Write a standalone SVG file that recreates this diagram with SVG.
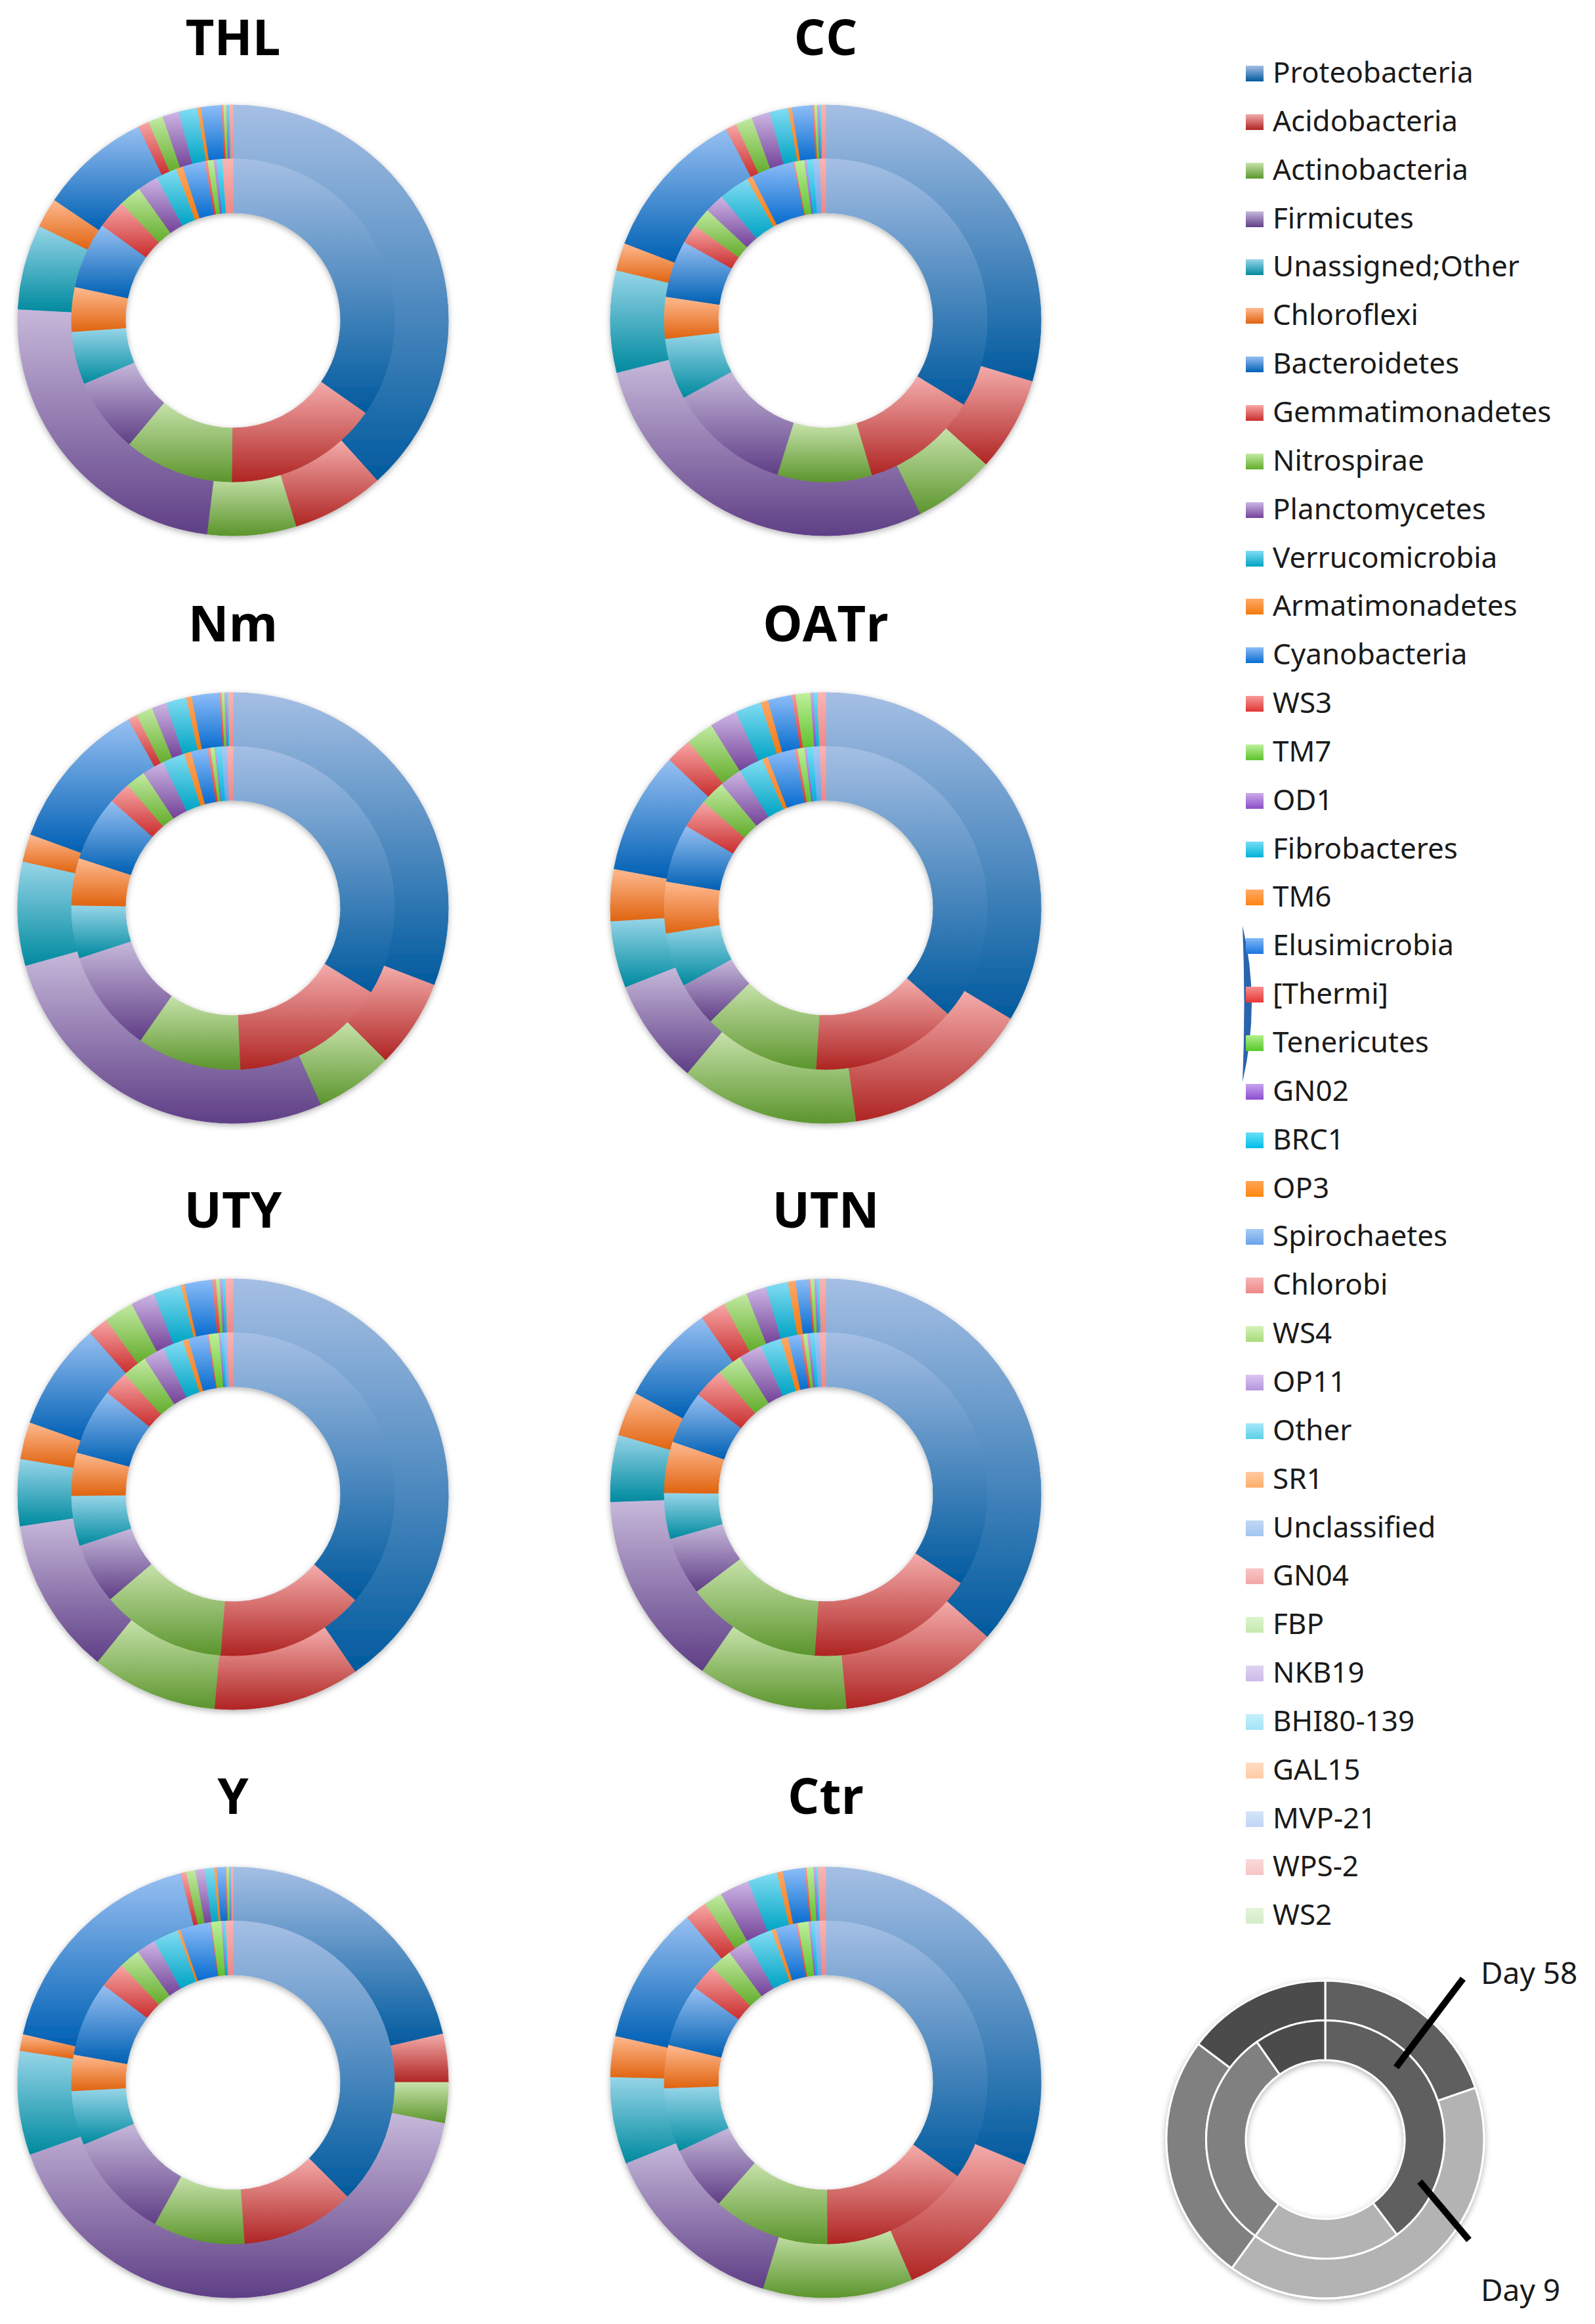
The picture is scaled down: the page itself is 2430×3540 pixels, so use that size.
<svg xmlns="http://www.w3.org/2000/svg" width="2430" height="3540" viewBox="0 0 2430 3540">
<defs>
<linearGradient id="g1" x1="0" y1="0" x2="0" y2="1"><stop offset="0" stop-color="#A5BFE4"/><stop offset="1" stop-color="#005A9E"/></linearGradient>
<linearGradient id="g2" x1="0" y1="0" x2="0" y2="1"><stop offset="0" stop-color="#F3ABAA"/><stop offset="1" stop-color="#AF2523"/></linearGradient>
<linearGradient id="g3" x1="0" y1="0" x2="0" y2="1"><stop offset="0" stop-color="#C6E2AA"/><stop offset="1" stop-color="#5C952D"/></linearGradient>
<linearGradient id="g4" x1="0" y1="0" x2="0" y2="1"><stop offset="0" stop-color="#C6B8DA"/><stop offset="1" stop-color="#5F3F86"/></linearGradient>
<linearGradient id="g5" x1="0" y1="0" x2="0" y2="1"><stop offset="0" stop-color="#97D5E8"/><stop offset="1" stop-color="#008A9F"/></linearGradient>
<linearGradient id="g6" x1="0" y1="0" x2="0" y2="1"><stop offset="0" stop-color="#FFBA91"/><stop offset="1" stop-color="#E06410"/></linearGradient>
<linearGradient id="g7" x1="0" y1="0" x2="0" y2="1"><stop offset="0" stop-color="#97C0F2"/><stop offset="1" stop-color="#0060B4"/></linearGradient>
<linearGradient id="g8" x1="0" y1="0" x2="0" y2="1"><stop offset="0" stop-color="#F8A6A6"/><stop offset="1" stop-color="#C92E2E"/></linearGradient>
<linearGradient id="g9" x1="0" y1="0" x2="0" y2="1"><stop offset="0" stop-color="#C2EAA2"/><stop offset="1" stop-color="#63AC2C"/></linearGradient>
<linearGradient id="g10" x1="0" y1="0" x2="0" y2="1"><stop offset="0" stop-color="#CDB6E4"/><stop offset="1" stop-color="#734399"/></linearGradient>
<linearGradient id="g11" x1="0" y1="0" x2="0" y2="1"><stop offset="0" stop-color="#82DCF3"/><stop offset="1" stop-color="#00A4C4"/></linearGradient>
<linearGradient id="g12" x1="0" y1="0" x2="0" y2="1"><stop offset="0" stop-color="#FFA868"/><stop offset="1" stop-color="#F27A0E"/></linearGradient>
<linearGradient id="g13" x1="0" y1="0" x2="0" y2="1"><stop offset="0" stop-color="#8CBDF8"/><stop offset="1" stop-color="#086CCF"/></linearGradient>
<linearGradient id="g14" x1="0" y1="0" x2="0" y2="1"><stop offset="0" stop-color="#F79A9A"/><stop offset="1" stop-color="#E03434"/></linearGradient>
<linearGradient id="g15" x1="0" y1="0" x2="0" y2="1"><stop offset="0" stop-color="#BDF09A"/><stop offset="1" stop-color="#5FC22E"/></linearGradient>
<linearGradient id="g16" x1="0" y1="0" x2="0" y2="1"><stop offset="0" stop-color="#CBAAEA"/><stop offset="1" stop-color="#8A4FC6"/></linearGradient>
<linearGradient id="g17" x1="0" y1="0" x2="0" y2="1"><stop offset="0" stop-color="#76DEF6"/><stop offset="1" stop-color="#00B2D8"/></linearGradient>
<linearGradient id="g18" x1="0" y1="0" x2="0" y2="1"><stop offset="0" stop-color="#FFAA66"/><stop offset="1" stop-color="#FF8314"/></linearGradient>
<linearGradient id="g19" x1="0" y1="0" x2="0" y2="1"><stop offset="0" stop-color="#82B9F8"/><stop offset="1" stop-color="#1A74DD"/></linearGradient>
<linearGradient id="g20" x1="0" y1="0" x2="0" y2="1"><stop offset="0" stop-color="#F78E8E"/><stop offset="1" stop-color="#E63737"/></linearGradient>
<linearGradient id="g21" x1="0" y1="0" x2="0" y2="1"><stop offset="0" stop-color="#AEF088"/><stop offset="1" stop-color="#58C82A"/></linearGradient>
<linearGradient id="g22" x1="0" y1="0" x2="0" y2="1"><stop offset="0" stop-color="#C7A4EE"/><stop offset="1" stop-color="#8B4DD2"/></linearGradient>
<linearGradient id="g23" x1="0" y1="0" x2="0" y2="1"><stop offset="0" stop-color="#6ADFF8"/><stop offset="1" stop-color="#00BDE8"/></linearGradient>
<linearGradient id="g24" x1="0" y1="0" x2="0" y2="1"><stop offset="0" stop-color="#FFA456"/><stop offset="1" stop-color="#FF870E"/></linearGradient>
<linearGradient id="g25" x1="0" y1="0" x2="0" y2="1"><stop offset="0" stop-color="#A8CBF6"/><stop offset="1" stop-color="#6AA3E8"/></linearGradient>
<linearGradient id="g26" x1="0" y1="0" x2="0" y2="1"><stop offset="0" stop-color="#F8B5B5"/><stop offset="1" stop-color="#EC8888"/></linearGradient>
<linearGradient id="g27" x1="0" y1="0" x2="0" y2="1"><stop offset="0" stop-color="#D3F2B8"/><stop offset="1" stop-color="#A7DC7A"/></linearGradient>
<linearGradient id="g28" x1="0" y1="0" x2="0" y2="1"><stop offset="0" stop-color="#D9C8F0"/><stop offset="1" stop-color="#B694DC"/></linearGradient>
<linearGradient id="g29" x1="0" y1="0" x2="0" y2="1"><stop offset="0" stop-color="#A6E8F8"/><stop offset="1" stop-color="#5CD0EA"/></linearGradient>
<linearGradient id="g30" x1="0" y1="0" x2="0" y2="1"><stop offset="0" stop-color="#FFCAA2"/><stop offset="1" stop-color="#FFAD6A"/></linearGradient>
<linearGradient id="g31" x1="0" y1="0" x2="0" y2="1"><stop offset="0" stop-color="#C2D8F6"/><stop offset="1" stop-color="#A2C4F0"/></linearGradient>
<linearGradient id="g32" x1="0" y1="0" x2="0" y2="1"><stop offset="0" stop-color="#FAC6C6"/><stop offset="1" stop-color="#F2A6A6"/></linearGradient>
<linearGradient id="g33" x1="0" y1="0" x2="0" y2="1"><stop offset="0" stop-color="#DCF4CE"/><stop offset="1" stop-color="#C4EAAE"/></linearGradient>
<linearGradient id="g34" x1="0" y1="0" x2="0" y2="1"><stop offset="0" stop-color="#E0D4F2"/><stop offset="1" stop-color="#CCBAE8"/></linearGradient>
<linearGradient id="g35" x1="0" y1="0" x2="0" y2="1"><stop offset="0" stop-color="#C4F0FB"/><stop offset="1" stop-color="#A2E4F6"/></linearGradient>
<linearGradient id="g36" x1="0" y1="0" x2="0" y2="1"><stop offset="0" stop-color="#FFDCC2"/><stop offset="1" stop-color="#FFCBA4"/></linearGradient>
<linearGradient id="g37" x1="0" y1="0" x2="0" y2="1"><stop offset="0" stop-color="#D6E4F8"/><stop offset="1" stop-color="#C0D6F4"/></linearGradient>
<linearGradient id="g38" x1="0" y1="0" x2="0" y2="1"><stop offset="0" stop-color="#FBDADA"/><stop offset="1" stop-color="#F7C4C4"/></linearGradient>
<linearGradient id="g39" x1="0" y1="0" x2="0" y2="1"><stop offset="0" stop-color="#E4F4DC"/><stop offset="1" stop-color="#D2ECC6"/></linearGradient>
<filter id="sh" x="-10%" y="-10%" width="120%" height="120%"><feDropShadow dx="0" dy="3" stdDeviation="5" flood-color="#000" flood-opacity="0.3"/></filter>
</defs>
<style>
.t{font-family:"Open Sans","Liberation Sans",sans-serif;font-weight:700;font-size:76px;fill:#000;text-anchor:middle}
.l{font-family:"Noto Sans","Liberation Sans",sans-serif;font-size:44px;fill:#1a1a1a}
.dn path{stroke-width:.012}
.k1{fill:url(#g1);stroke:url(#g1)}.k2{fill:url(#g2);stroke:url(#g2)}.k3{fill:url(#g3);stroke:url(#g3)}.k4{fill:url(#g4);stroke:url(#g4)}
.k5{fill:url(#g5);stroke:url(#g5)}.k6{fill:url(#g6);stroke:url(#g6)}.k7{fill:url(#g7);stroke:url(#g7)}.k8{fill:url(#g8);stroke:url(#g8)}
.k9{fill:url(#g9);stroke:url(#g9)}.k10{fill:url(#g10);stroke:url(#g10)}.k11{fill:url(#g11);stroke:url(#g11)}.k12{fill:url(#g12);stroke:url(#g12)}
.k13{fill:url(#g13);stroke:url(#g13)}.k14{fill:url(#g14);stroke:url(#g14)}.k15{fill:url(#g15);stroke:url(#g15)}.k16{fill:url(#g16);stroke:url(#g16)}
.k17{fill:url(#g17);stroke:url(#g17)}.k25{fill:url(#g25);stroke:url(#g25)}.k26{fill:url(#g26);stroke:url(#g26)}
.ky path{stroke:#fff;stroke-width:.05}
.cn{stroke:#000;stroke-width:10;stroke-linecap:butt}
</style>
<rect width="2430" height="3540" fill="#fff"/>

<g id="THL">
<text class="t" x="355" y="84">THL</text>
<g filter="url(#sh)"><g class="dn" transform="translate(355 488) scale(82)">
<path class="k1" d="M0,-4A4,4 0 0 1 2.677,2.973L2.007,2.229A3,3 0 0 0 0,-3Z"/>
<path class="k2" d="M2.677,2.973A4,4 0 0 1 1.169,3.825L.877,2.869A3,3 0 0 0 2.007,2.229Z"/>
<path class="k3" d="M1.169,3.825A4,4 0 0 1 -.487,3.97L-.366,2.978A3,3 0 0 0 .877,2.869Z"/>
<path class="k4" d="M-.487,3.97A4,4 0 0 1 -3.995,-.209L-2.996,-.157A3,3 0 0 0 -.366,2.978Z"/>
<path class="k5" d="M-3.995,-.209A4,4 0 0 1 -3.595,-1.753L-2.696,-1.315A3,3 0 0 0 -2.996,-.157Z"/>
<path class="k6" d="M-3.595,-1.753A4,4 0 0 1 -3.316,-2.237L-2.487,-1.678A3,3 0 0 0 -2.696,-1.315Z"/>
<path class="k7" d="M-3.316,-2.237A4,4 0 0 1 -1.753,-3.595L-1.315,-2.696A3,3 0 0 0 -2.487,-1.678Z"/>
<path class="k8" d="M-1.753,-3.595A4,4 0 0 1 -1.563,-3.682L-1.172,-2.762A3,3 0 0 0 -1.315,-2.696Z"/>
<path class="k9" d="M-1.563,-3.682A4,4 0 0 1 -1.302,-3.782L-.977,-2.837A3,3 0 0 0 -1.172,-2.762Z"/>
<path class="k10" d="M-1.302,-3.782A4,4 0 0 1 -1.002,-3.873L-.751,-2.904A3,3 0 0 0 -.977,-2.837Z"/>
<path class="k11" d="M-1.002,-3.873A4,4 0 0 1 -.66,-3.945L-.495,-2.959A3,3 0 0 0 -.751,-2.904Z"/>
<path class="k12" d="M-.66,-3.945A4,4 0 0 1 -.591,-3.956L-.443,-2.967A3,3 0 0 0 -.495,-2.959Z"/>
<path class="k13" d="M-.591,-3.956A4,4 0 0 1 -.209,-3.995L-.157,-2.996A3,3 0 0 0 -.443,-2.967Z"/>
<path class="k14" d="M-.209,-3.995A4,4 0 0 1 -.174,-3.996L-.131,-2.997A3,3 0 0 0 -.157,-2.996Z"/>
<path class="k15" d="M-.174,-3.996A4,4 0 0 1 -.119,-3.998L-.089,-2.999A3,3 0 0 0 -.131,-2.997Z"/>
<path class="k16" d="M-.119,-3.998A4,4 0 0 1 -.091,-3.999L-.068,-2.999A3,3 0 0 0 -.089,-2.999Z"/>
<path class="k17" d="M-.091,-3.999A4,4 0 0 1 -.056,-4L-.042,-3A3,3 0 0 0 -.068,-2.999Z"/>
<path class="k26" d="M-.056,-4A4,4 0 0 1 0,-4L0,-3A3,3 0 0 0 -.042,-3Z"/>
<path class="k1" d="M0,-3A3,3 0 0 1 2.457,1.721L1.638,1.147A2,2 0 0 0 0,-2Z"/>
<path class="k2" d="M2.457,1.721A3,3 0 0 1 -.026,3L-.017,2A2,2 0 0 0 1.638,1.147Z"/>
<path class="k3" d="M-.026,3A3,3 0 0 1 -1.928,2.298L-1.286,1.532A2,2 0 0 0 -.017,2Z"/>
<path class="k4" d="M-1.928,2.298A3,3 0 0 1 -2.762,1.172L-1.841,.781A2,2 0 0 0 -1.286,1.532Z"/>
<path class="k5" d="M-2.762,1.172A3,3 0 0 1 -2.993,.209L-1.995,.14A2,2 0 0 0 -1.841,.781Z"/>
<path class="k6" d="M-2.993,.209A3,3 0 0 1 -2.934,-.624L-1.956,-.416A2,2 0 0 0 -1.995,.14Z"/>
<path class="k7" d="M-2.934,-.624A3,3 0 0 1 -2.427,-1.763L-1.618,-1.176A2,2 0 0 0 -1.956,-.416Z"/>
<path class="k8" d="M-2.427,-1.763A3,3 0 0 1 -2.065,-2.176L-1.377,-1.451A2,2 0 0 0 -1.618,-1.176Z"/>
<path class="k9" d="M-2.065,-2.176A3,3 0 0 1 -1.742,-2.442L-1.161,-1.628A2,2 0 0 0 -1.377,-1.451Z"/>
<path class="k10" d="M-1.742,-2.442A3,3 0 0 1 -1.408,-2.649L-.939,-1.766A2,2 0 0 0 -1.161,-1.628Z"/>
<path class="k11" d="M-1.408,-2.649A3,3 0 0 1 -1.051,-2.81L-.7,-1.873A2,2 0 0 0 -.939,-1.766Z"/>
<path class="k12" d="M-1.051,-2.81A3,3 0 0 1 -.927,-2.853L-.618,-1.902A2,2 0 0 0 -.7,-1.873Z"/>
<path class="k13" d="M-.927,-2.853A3,3 0 0 1 -.521,-2.954L-.347,-1.97A2,2 0 0 0 -.618,-1.902Z"/>
<path class="k14" d="M-.521,-2.954A3,3 0 0 1 -.469,-2.963L-.313,-1.975A2,2 0 0 0 -.347,-1.97Z"/>
<path class="k15" d="M-.469,-2.963A3,3 0 0 1 -.355,-2.979L-.237,-1.986A2,2 0 0 0 -.313,-1.975Z"/>
<path class="k16" d="M-.355,-2.979A3,3 0 0 1 -.303,-2.985L-.202,-1.99A2,2 0 0 0 -.237,-1.986Z"/>
<path class="k17" d="M-.303,-2.985A3,3 0 0 1 -.194,-2.994L-.129,-1.996A2,2 0 0 0 -.202,-1.99Z"/>
<path class="k26" d="M-.194,-2.994A3,3 0 0 1 0,-3L0,-2A2,2 0 0 0 -.129,-1.996Z"/>
</g></g>
</g>

<g id="CC">
<text class="t" x="1258" y="84">CC</text>
<g filter="url(#sh)"><g class="dn" transform="translate(1258 488) scale(82)">
<path class="k1" d="M0,-4A4,4 0 0 1 3.835,1.136L2.876,.852A3,3 0 0 0 0,-3Z"/>
<path class="k2" d="M3.835,1.136A4,4 0 0 1 2.973,2.677L2.229,2.007A3,3 0 0 0 2.876,.852Z"/>
<path class="k3" d="M2.973,2.677A4,4 0 0 1 1.753,3.595L1.315,2.696A3,3 0 0 0 2.229,2.007Z"/>
<path class="k4" d="M1.753,3.595A4,4 0 0 1 -3.881,.968L-2.911,.726A3,3 0 0 0 1.315,2.696Z"/>
<path class="k5" d="M-3.881,.968A4,4 0 0 1 -3.889,-.934L-2.917,-.7A3,3 0 0 0 -2.911,.726Z"/>
<path class="k6" d="M-3.889,-.934A4,4 0 0 1 -3.734,-1.433L-2.801,-1.075A3,3 0 0 0 -2.917,-.7Z"/>
<path class="k7" d="M-3.734,-1.433A4,4 0 0 1 -1.847,-3.548L-1.385,-2.661A3,3 0 0 0 -2.801,-1.075Z"/>
<path class="k8" d="M-1.847,-3.548A4,4 0 0 1 -1.659,-3.64L-1.244,-2.73A3,3 0 0 0 -1.385,-2.661Z"/>
<path class="k9" d="M-1.659,-3.64A4,4 0 0 1 -1.368,-3.759L-1.026,-2.819A3,3 0 0 0 -1.244,-2.73Z"/>
<path class="k10" d="M-1.368,-3.759A4,4 0 0 1 -1.035,-3.864L-.776,-2.898A3,3 0 0 0 -1.026,-2.819Z"/>
<path class="k11" d="M-1.035,-3.864A4,4 0 0 1 -.695,-3.939L-.521,-2.954A3,3 0 0 0 -.776,-2.898Z"/>
<path class="k12" d="M-.695,-3.939A4,4 0 0 1 -.626,-3.951L-.469,-2.963A3,3 0 0 0 -.521,-2.954Z"/>
<path class="k13" d="M-.626,-3.951A4,4 0 0 1 -.244,-3.993L-.183,-2.994A3,3 0 0 0 -.469,-2.963Z"/>
<path class="k14" d="M-.244,-3.993A4,4 0 0 1 -.209,-3.995L-.157,-2.996A3,3 0 0 0 -.183,-2.994Z"/>
<path class="k15" d="M-.209,-3.995A4,4 0 0 1 -.154,-3.997L-.115,-2.998A3,3 0 0 0 -.157,-2.996Z"/>
<path class="k16" d="M-.154,-3.997A4,4 0 0 1 -.119,-3.998L-.089,-2.999A3,3 0 0 0 -.115,-2.998Z"/>
<path class="k17" d="M-.119,-3.998A4,4 0 0 1 -.084,-3.999L-.063,-2.999A3,3 0 0 0 -.089,-2.999Z"/>
<path class="k26" d="M-.084,-3.999A4,4 0 0 1 0,-4L0,-3A3,3 0 0 0 -.063,-2.999Z"/>
<path class="k1" d="M0,-3A3,3 0 0 1 2.558,1.568L1.705,1.045A2,2 0 0 0 0,-2Z"/>
<path class="k2" d="M2.558,1.568A3,3 0 0 1 .852,2.876L.568,1.918A2,2 0 0 0 1.705,1.045Z"/>
<path class="k3" d="M.852,2.876A3,3 0 0 1 -.902,2.861L-.601,1.907A2,2 0 0 0 .568,1.918Z"/>
<path class="k4" d="M-.902,2.861A3,3 0 0 1 -2.636,1.431L-1.758,.954A2,2 0 0 0 -.601,1.907Z"/>
<path class="k5" d="M-2.636,1.431A3,3 0 0 1 -2.981,.34L-1.987,.226A2,2 0 0 0 -1.758,.954Z"/>
<path class="k6" d="M-2.981,.34A3,3 0 0 1 -2.967,-.443L-1.978,-.296A2,2 0 0 0 -1.987,.226Z"/>
<path class="k7" d="M-2.967,-.443A3,3 0 0 1 -2.624,-1.454L-1.749,-.97A2,2 0 0 0 -1.978,-.296Z"/>
<path class="k8" d="M-2.624,-1.454A3,3 0 0 1 -2.427,-1.763L-1.618,-1.176A2,2 0 0 0 -1.749,-.97Z"/>
<path class="k9" d="M-2.427,-1.763A3,3 0 0 1 -2.194,-2.046L-1.463,-1.364A2,2 0 0 0 -1.618,-1.176Z"/>
<path class="k10" d="M-2.194,-2.046A3,3 0 0 1 -1.928,-2.298L-1.286,-1.532A2,2 0 0 0 -1.463,-1.364Z"/>
<path class="k11" d="M-1.928,-2.298A3,3 0 0 1 -1.454,-2.624L-.97,-1.749A2,2 0 0 0 -1.286,-1.532Z"/>
<path class="k12" d="M-1.454,-2.624A3,3 0 0 1 -1.362,-2.673L-.908,-1.782A2,2 0 0 0 -.97,-1.749Z"/>
<path class="k13" d="M-1.362,-2.673A3,3 0 0 1 -.598,-2.94L-.399,-1.96A2,2 0 0 0 -.908,-1.782Z"/>
<path class="k14" d="M-.598,-2.94A3,3 0 0 1 -.572,-2.945L-.382,-1.963A2,2 0 0 0 -.399,-1.96Z"/>
<path class="k15" d="M-.572,-2.945A3,3 0 0 1 -.392,-2.974L-.261,-1.983A2,2 0 0 0 -.382,-1.963Z"/>
<path class="k16" d="M-.392,-2.974A3,3 0 0 1 -.35,-2.98L-.233,-1.986A2,2 0 0 0 -.261,-1.983Z"/>
<path class="k17" d="M-.35,-2.98A3,3 0 0 1 -.235,-2.991L-.157,-1.994A2,2 0 0 0 -.233,-1.986Z"/>
<path class="k25" d="M-.235,-2.991A3,3 0 0 1 -.105,-2.998L-.07,-1.999A2,2 0 0 0 -.157,-1.994Z"/>
<path class="k26" d="M-.105,-2.998A3,3 0 0 1 0,-3L0,-2A2,2 0 0 0 -.07,-1.999Z"/>
</g></g>
</g>

<g id="Nm">
<text class="t" x="355" y="977">Nm</text>
<g filter="url(#sh)"><g class="dn" transform="translate(355 1383) scale(82)">
<path class="k1" d="M0,-4A4,4 0 0 1 3.734,1.433L2.801,1.075A3,3 0 0 0 0,-3Z"/>
<path class="k2" d="M3.734,1.433A4,4 0 0 1 2.828,2.828L2.121,2.121A3,3 0 0 0 2.801,1.075Z"/>
<path class="k3" d="M2.828,2.828A4,4 0 0 1 1.627,3.654L1.22,2.741A3,3 0 0 0 2.121,2.121Z"/>
<path class="k4" d="M1.627,3.654A4,4 0 0 1 -3.855,1.069L-2.891,.802A3,3 0 0 0 1.22,2.741Z"/>
<path class="k5" d="M-3.855,1.069A4,4 0 0 1 -3.905,-.866L-2.929,-.649A3,3 0 0 0 -2.891,.802Z"/>
<path class="k6" d="M-3.905,-.866A4,4 0 0 1 -3.759,-1.368L-2.819,-1.026A3,3 0 0 0 -2.929,-.649Z"/>
<path class="k7" d="M-3.759,-1.368A4,4 0 0 1 -1.939,-3.498L-1.454,-2.624A3,3 0 0 0 -2.819,-1.026Z"/>
<path class="k8" d="M-1.939,-3.498A4,4 0 0 1 -1.785,-3.58L-1.339,-2.685A3,3 0 0 0 -1.454,-2.624Z"/>
<path class="k9" d="M-1.785,-3.58A4,4 0 0 1 -1.498,-3.709L-1.124,-2.782A3,3 0 0 0 -1.339,-2.685Z"/>
<path class="k10" d="M-1.498,-3.709A4,4 0 0 1 -1.236,-3.804L-.927,-2.853A3,3 0 0 0 -1.124,-2.782Z"/>
<path class="k11" d="M-1.236,-3.804A4,4 0 0 1 -.866,-3.905L-.649,-2.929A3,3 0 0 0 -.927,-2.853Z"/>
<path class="k12" d="M-.866,-3.905A4,4 0 0 1 -.763,-3.927L-.572,-2.945A3,3 0 0 0 -.649,-2.929Z"/>
<path class="k13" d="M-.763,-3.927A4,4 0 0 1 -.244,-3.993L-.183,-2.994A3,3 0 0 0 -.572,-2.945Z"/>
<path class="k14" d="M-.244,-3.993A4,4 0 0 1 -.209,-3.995L-.157,-2.996A3,3 0 0 0 -.183,-2.994Z"/>
<path class="k15" d="M-.209,-3.995A4,4 0 0 1 -.154,-3.997L-.115,-2.998A3,3 0 0 0 -.157,-2.996Z"/>
<path class="k16" d="M-.154,-3.997A4,4 0 0 1 -.119,-3.998L-.089,-2.999A3,3 0 0 0 -.115,-2.998Z"/>
<path class="k17" d="M-.119,-3.998A4,4 0 0 1 -.084,-3.999L-.063,-2.999A3,3 0 0 0 -.089,-2.999Z"/>
<path class="k26" d="M-.084,-3.999A4,4 0 0 1 0,-4L0,-3A3,3 0 0 0 -.063,-2.999Z"/>
<path class="k1" d="M0,-3A3,3 0 0 1 2.558,1.568L1.705,1.045A2,2 0 0 0 0,-2Z"/>
<path class="k2" d="M2.558,1.568A3,3 0 0 1 .131,2.997L.087,1.998A2,2 0 0 0 1.705,1.045Z"/>
<path class="k3" d="M.131,2.997A3,3 0 0 1 -1.721,2.457L-1.147,1.638A2,2 0 0 0 .087,1.998Z"/>
<path class="k4" d="M-1.721,2.457A3,3 0 0 1 -2.853,.927L-1.902,.618A2,2 0 0 0 -1.147,1.638Z"/>
<path class="k5" d="M-2.853,.927A3,3 0 0 1 -3,-.052L-2,-.035A2,2 0 0 0 -1.902,.618Z"/>
<path class="k6" d="M-3,-.052A3,3 0 0 1 -2.853,-.927L-1.902,-.618A2,2 0 0 0 -2,-.035Z"/>
<path class="k7" d="M-2.853,-.927A3,3 0 0 1 -2.247,-1.988L-1.498,-1.325A2,2 0 0 0 -1.902,-.618Z"/>
<path class="k8" d="M-2.247,-1.988A3,3 0 0 1 -1.948,-2.281L-1.299,-1.521A2,2 0 0 0 -1.498,-1.325Z"/>
<path class="k9" d="M-1.948,-2.281A3,3 0 0 1 -1.656,-2.502L-1.104,-1.668A2,2 0 0 0 -1.299,-1.521Z"/>
<path class="k10" d="M-1.656,-2.502A3,3 0 0 1 -1.292,-2.708L-.861,-1.805A2,2 0 0 0 -1.104,-1.668Z"/>
<path class="k11" d="M-1.292,-2.708A3,3 0 0 1 -.902,-2.861L-.601,-1.907A2,2 0 0 0 -.861,-1.805Z"/>
<path class="k12" d="M-.902,-2.861A3,3 0 0 1 -.776,-2.898L-.518,-1.932A2,2 0 0 0 -.601,-1.907Z"/>
<path class="k13" d="M-.776,-2.898A3,3 0 0 1 -.469,-2.963L-.313,-1.975A2,2 0 0 0 -.518,-1.932Z"/>
<path class="k14" d="M-.469,-2.963A3,3 0 0 1 -.418,-2.971L-.278,-1.981A2,2 0 0 0 -.313,-1.975Z"/>
<path class="k15" d="M-.418,-2.971A3,3 0 0 1 -.34,-2.981L-.226,-1.987A2,2 0 0 0 -.278,-1.981Z"/>
<path class="k16" d="M-.34,-2.981A3,3 0 0 1 -.314,-2.984L-.209,-1.989A2,2 0 0 0 -.226,-1.987Z"/>
<path class="k17" d="M-.314,-2.984A3,3 0 0 1 -.209,-2.993L-.14,-1.995A2,2 0 0 0 -.209,-1.989Z"/>
<path class="k25" d="M-.209,-2.993A3,3 0 0 1 -.105,-2.998L-.07,-1.999A2,2 0 0 0 -.14,-1.995Z"/>
<path class="k26" d="M-.105,-2.998A3,3 0 0 1 0,-3L0,-2A2,2 0 0 0 -.07,-1.999Z"/>
</g></g>
</g>

<g id="OATr">
<text class="t" x="1258" y="977">OATr</text>
<g filter="url(#sh)"><g class="dn" transform="translate(1258 1383) scale(82)">
<path class="k1" d="M0,-4A4,4 0 0 1 3.429,2.06L2.572,1.545A3,3 0 0 0 0,-3Z"/>
<path class="k2" d="M3.429,2.06A4,4 0 0 1 .557,3.961L.418,2.971A3,3 0 0 0 2.572,1.545Z"/>
<path class="k3" d="M.557,3.961A4,4 0 0 1 -2.571,3.064L-1.928,2.298A3,3 0 0 0 .418,2.971Z"/>
<path class="k4" d="M-2.571,3.064A4,4 0 0 1 -3.722,1.466L-2.791,1.1A3,3 0 0 0 -1.928,2.298Z"/>
<path class="k5" d="M-3.722,1.466A4,4 0 0 1 -3.993,.244L-2.994,.183A3,3 0 0 0 -2.791,1.1Z"/>
<path class="k6" d="M-3.993,.244A4,4 0 0 1 -3.933,-.729L-2.95,-.547A3,3 0 0 0 -2.994,.183Z"/>
<path class="k7" d="M-3.933,-.729A4,4 0 0 1 -2.901,-2.753L-2.176,-2.065A3,3 0 0 0 -2.95,-.547Z"/>
<path class="k8" d="M-2.901,-2.753A4,4 0 0 1 -2.544,-3.086L-1.908,-2.315A3,3 0 0 0 -2.176,-2.065Z"/>
<path class="k9" d="M-2.544,-3.086A4,4 0 0 1 -2.12,-3.392L-1.59,-2.544A3,3 0 0 0 -1.908,-2.315Z"/>
<path class="k10" d="M-2.12,-3.392A4,4 0 0 1 -1.659,-3.64L-1.244,-2.73A3,3 0 0 0 -1.59,-2.544Z"/>
<path class="k11" d="M-1.659,-3.64A4,4 0 0 1 -1.203,-3.815L-.902,-2.861A3,3 0 0 0 -1.244,-2.73Z"/>
<path class="k12" d="M-1.203,-3.815A4,4 0 0 1 -1.069,-3.855L-.802,-2.891A3,3 0 0 0 -.902,-2.861Z"/>
<path class="k13" d="M-1.069,-3.855A4,4 0 0 1 -.626,-3.951L-.469,-2.963A3,3 0 0 0 -.802,-2.891Z"/>
<path class="k14" d="M-.626,-3.951A4,4 0 0 1 -.557,-3.961L-.418,-2.971A3,3 0 0 0 -.469,-2.963Z"/>
<path class="k15" d="M-.557,-3.961A4,4 0 0 1 -.279,-3.99L-.209,-2.993A3,3 0 0 0 -.418,-2.971Z"/>
<path class="k16" d="M-.279,-3.99A4,4 0 0 1 -.223,-3.994L-.167,-2.995A3,3 0 0 0 -.209,-2.993Z"/>
<path class="k17" d="M-.223,-3.994A4,4 0 0 1 -.154,-3.997L-.115,-2.998A3,3 0 0 0 -.167,-2.995Z"/>
<path class="k26" d="M-.154,-3.997A4,4 0 0 1 0,-4L0,-3A3,3 0 0 0 -.115,-2.998Z"/>
<path class="k1" d="M0,-3A3,3 0 0 1 2.264,1.968L1.509,1.312A2,2 0 0 0 0,-2Z"/>
<path class="k2" d="M2.264,1.968A3,3 0 0 1 -.183,2.994L-.122,1.996A2,2 0 0 0 1.509,1.312Z"/>
<path class="k3" d="M-.183,2.994A3,3 0 0 1 -2.14,2.103L-1.427,1.402A2,2 0 0 0 -.122,1.996Z"/>
<path class="k4" d="M-2.14,2.103A3,3 0 0 1 -2.636,1.431L-1.758,.954A2,2 0 0 0 -1.427,1.402Z"/>
<path class="k5" d="M-2.636,1.431A3,3 0 0 1 -2.963,.469L-1.975,.313A2,2 0 0 0 -1.758,.954Z"/>
<path class="k6" d="M-2.963,.469A3,3 0 0 1 -2.959,-.495L-1.973,-.33A2,2 0 0 0 -1.975,.313Z"/>
<path class="k7" d="M-2.959,-.495A3,3 0 0 1 -2.585,-1.523L-1.723,-1.015A2,2 0 0 0 -1.973,-.33Z"/>
<path class="k8" d="M-2.585,-1.523A3,3 0 0 1 -2.264,-1.968L-1.509,-1.312A2,2 0 0 0 -1.723,-1.015Z"/>
<path class="k9" d="M-2.264,-1.968A3,3 0 0 1 -1.928,-2.298L-1.286,-1.532A2,2 0 0 0 -1.509,-1.312Z"/>
<path class="k10" d="M-1.928,-2.298A3,3 0 0 1 -1.59,-2.544L-1.06,-1.696A2,2 0 0 0 -1.286,-1.532Z"/>
<path class="k11" d="M-1.59,-2.544A3,3 0 0 1 -1.172,-2.762L-.781,-1.841A2,2 0 0 0 -1.06,-1.696Z"/>
<path class="k12" d="M-1.172,-2.762A3,3 0 0 1 -1.075,-2.801L-.717,-1.867A2,2 0 0 0 -.781,-1.841Z"/>
<path class="k13" d="M-1.075,-2.801A3,3 0 0 1 -.572,-2.945L-.382,-1.963A2,2 0 0 0 -.717,-1.867Z"/>
<path class="k14" d="M-.572,-2.945A3,3 0 0 1 -.521,-2.954L-.347,-1.97A2,2 0 0 0 -.382,-1.963Z"/>
<path class="k15" d="M-.521,-2.954A3,3 0 0 1 -.392,-2.974L-.261,-1.983A2,2 0 0 0 -.347,-1.97Z"/>
<path class="k16" d="M-.392,-2.974A3,3 0 0 1 -.35,-2.98L-.233,-1.986A2,2 0 0 0 -.261,-1.983Z"/>
<path class="k17" d="M-.35,-2.98A3,3 0 0 1 -.235,-2.991L-.157,-1.994A2,2 0 0 0 -.233,-1.986Z"/>
<path class="k25" d="M-.235,-2.991A3,3 0 0 1 -.105,-2.998L-.07,-1.999A2,2 0 0 0 -.157,-1.994Z"/>
<path class="k26" d="M-.105,-2.998A3,3 0 0 1 0,-3L0,-2A2,2 0 0 0 -.07,-1.999Z"/>
</g></g>
</g>

<g id="UTY">
<text class="t" x="355" y="1870">UTY</text>
<g filter="url(#sh)"><g class="dn" transform="translate(355 2276) scale(82)">
<path class="k1" d="M0,-4A4,4 0 0 1 2.266,3.297L1.699,2.472A3,3 0 0 0 0,-3Z"/>
<path class="k2" d="M2.266,3.297A4,4 0 0 1 -.349,3.985L-.261,2.989A3,3 0 0 0 1.699,2.472Z"/>
<path class="k3" d="M-.349,3.985A4,4 0 0 1 -2.517,3.109L-1.888,2.331A3,3 0 0 0 -.261,2.989Z"/>
<path class="k4" d="M-2.517,3.109A4,4 0 0 1 -3.956,.591L-2.967,.443A3,3 0 0 0 -1.888,2.331Z"/>
<path class="k5" d="M-3.956,.591A4,4 0 0 1 -3.945,-.66L-2.959,-.495A3,3 0 0 0 -2.967,.443Z"/>
<path class="k6" d="M-3.945,-.66A4,4 0 0 1 -3.771,-1.335L-2.828,-1.001A3,3 0 0 0 -2.959,-.495Z"/>
<path class="k7" d="M-3.771,-1.335A4,4 0 0 1 -2.65,-2.996L-1.988,-2.247A3,3 0 0 0 -2.828,-1.001Z"/>
<path class="k8" d="M-2.65,-2.996A4,4 0 0 1 -2.351,-3.236L-1.763,-2.427A3,3 0 0 0 -1.988,-2.247Z"/>
<path class="k9" d="M-2.351,-3.236A4,4 0 0 1 -1.878,-3.532L-1.408,-2.649A3,3 0 0 0 -1.763,-2.427Z"/>
<path class="k10" d="M-1.878,-3.532A4,4 0 0 1 -1.466,-3.722L-1.1,-2.791A3,3 0 0 0 -1.408,-2.649Z"/>
<path class="k11" d="M-1.466,-3.722A4,4 0 0 1 -.968,-3.881L-.726,-2.911A3,3 0 0 0 -1.1,-2.791Z"/>
<path class="k12" d="M-.968,-3.881A4,4 0 0 1 -.9,-3.897L-.675,-2.923A3,3 0 0 0 -.726,-2.911Z"/>
<path class="k13" d="M-.9,-3.897A4,4 0 0 1 -.383,-3.982L-.288,-2.986A3,3 0 0 0 -.675,-2.923Z"/>
<path class="k14" d="M-.383,-3.982A4,4 0 0 1 -.314,-3.988L-.235,-2.991A3,3 0 0 0 -.288,-2.986Z"/>
<path class="k15" d="M-.314,-3.988A4,4 0 0 1 -.244,-3.993L-.183,-2.994A3,3 0 0 0 -.235,-2.991Z"/>
<path class="k16" d="M-.244,-3.993A4,4 0 0 1 -.195,-3.995L-.147,-2.996A3,3 0 0 0 -.183,-2.994Z"/>
<path class="k17" d="M-.195,-3.995A4,4 0 0 1 -.14,-3.998L-.105,-2.998A3,3 0 0 0 -.147,-2.996Z"/>
<path class="k26" d="M-.14,-3.998A4,4 0 0 1 0,-4L0,-3A3,3 0 0 0 -.105,-2.998Z"/>
<path class="k1" d="M0,-3A3,3 0 0 1 2.264,1.968L1.509,1.312A2,2 0 0 0 0,-2Z"/>
<path class="k2" d="M2.264,1.968A3,3 0 0 1 -.235,2.991L-.157,1.994A2,2 0 0 0 1.509,1.312Z"/>
<path class="k3" d="M-.235,2.991A3,3 0 0 1 -2.281,1.948L-1.521,1.299A2,2 0 0 0 -.157,1.994Z"/>
<path class="k4" d="M-2.281,1.948A3,3 0 0 1 -2.845,.952L-1.897,.635A2,2 0 0 0 -1.521,1.299Z"/>
<path class="k5" d="M-2.845,.952A3,3 0 0 1 -3,.026L-2,.017A2,2 0 0 0 -1.897,.635Z"/>
<path class="k6" d="M-3,.026A3,3 0 0 1 -2.898,-.776L-1.932,-.518A2,2 0 0 0 -2,.017Z"/>
<path class="k7" d="M-2.898,-.776A3,3 0 0 1 -2.331,-1.888L-1.554,-1.259A2,2 0 0 0 -1.932,-.518Z"/>
<path class="k8" d="M-2.331,-1.888A3,3 0 0 1 -2.007,-2.229L-1.338,-1.486A2,2 0 0 0 -1.554,-1.259Z"/>
<path class="k9" d="M-2.007,-2.229A3,3 0 0 1 -1.634,-2.516L-1.089,-1.677A2,2 0 0 0 -1.338,-1.486Z"/>
<path class="k10" d="M-1.634,-2.516A3,3 0 0 1 -1.292,-2.708L-.861,-1.805A2,2 0 0 0 -1.089,-1.677Z"/>
<path class="k11" d="M-1.292,-2.708A3,3 0 0 1 -.927,-2.853L-.618,-1.902A2,2 0 0 0 -.861,-1.805Z"/>
<path class="k12" d="M-.927,-2.853A3,3 0 0 1 -.827,-2.884L-.551,-1.923A2,2 0 0 0 -.618,-1.902Z"/>
<path class="k13" d="M-.827,-2.884A3,3 0 0 1 -.469,-2.963L-.313,-1.975A2,2 0 0 0 -.551,-1.923Z"/>
<path class="k14" d="M-.469,-2.963A3,3 0 0 1 -.443,-2.967L-.296,-1.978A2,2 0 0 0 -.313,-1.975Z"/>
<path class="k15" d="M-.443,-2.967A3,3 0 0 1 -.261,-2.989L-.174,-1.992A2,2 0 0 0 -.296,-1.978Z"/>
<path class="k16" d="M-.261,-2.989A3,3 0 0 1 -.225,-2.992L-.15,-1.994A2,2 0 0 0 -.174,-1.992Z"/>
<path class="k17" d="M-.225,-2.992A3,3 0 0 1 -.173,-2.995L-.115,-1.997A2,2 0 0 0 -.15,-1.994Z"/>
<path class="k25" d="M-.173,-2.995A3,3 0 0 1 -.105,-2.998L-.07,-1.999A2,2 0 0 0 -.115,-1.997Z"/>
<path class="k26" d="M-.105,-2.998A3,3 0 0 1 0,-3L0,-2A2,2 0 0 0 -.07,-1.999Z"/>
</g></g>
</g>

<g id="UTN">
<text class="t" x="1258" y="1870">UTN</text>
<g filter="url(#sh)"><g class="dn" transform="translate(1258 2276) scale(82)">
<path class="k1" d="M0,-4A4,4 0 0 1 2.996,2.65L2.247,1.988A3,3 0 0 0 0,-3Z"/>
<path class="k2" d="M2.996,2.65A4,4 0 0 1 .383,3.982L.288,2.986A3,3 0 0 0 2.247,1.988Z"/>
<path class="k3" d="M.383,3.982A4,4 0 0 1 -2.294,3.277L-1.721,2.457A3,3 0 0 0 .288,2.986Z"/>
<path class="k4" d="M-2.294,3.277A4,4 0 0 1 -3.998,.14L-2.998,.105A3,3 0 0 0 -1.721,2.457Z"/>
<path class="k5" d="M-3.998,.14A4,4 0 0 1 -3.845,-1.103L-2.884,-.827A3,3 0 0 0 -2.998,.105Z"/>
<path class="k6" d="M-3.845,-1.103A4,4 0 0 1 -3.532,-1.878L-2.649,-1.408A3,3 0 0 0 -2.884,-.827Z"/>
<path class="k7" d="M-3.532,-1.878A4,4 0 0 1 -2.294,-3.277L-1.721,-2.457A3,3 0 0 0 -2.649,-1.408Z"/>
<path class="k8" d="M-2.294,-3.277A4,4 0 0 1 -1.878,-3.532L-1.408,-2.649A3,3 0 0 0 -1.721,-2.457Z"/>
<path class="k9" d="M-1.878,-3.532A4,4 0 0 1 -1.466,-3.722L-1.1,-2.791A3,3 0 0 0 -1.408,-2.649Z"/>
<path class="k10" d="M-1.466,-3.722A4,4 0 0 1 -1.103,-3.845L-.827,-2.884A3,3 0 0 0 -1.1,-2.791Z"/>
<path class="k11" d="M-1.103,-3.845A4,4 0 0 1 -.695,-3.939L-.521,-2.954A3,3 0 0 0 -.827,-2.884Z"/>
<path class="k12" d="M-.695,-3.939A4,4 0 0 1 -.557,-3.961L-.418,-2.971A3,3 0 0 0 -.521,-2.954Z"/>
<path class="k13" d="M-.557,-3.961A4,4 0 0 1 -.314,-3.988L-.235,-2.991A3,3 0 0 0 -.418,-2.971Z"/>
<path class="k14" d="M-.314,-3.988A4,4 0 0 1 -.279,-3.99L-.209,-2.993A3,3 0 0 0 -.235,-2.991Z"/>
<path class="k15" d="M-.279,-3.99A4,4 0 0 1 -.209,-3.995L-.157,-2.996A3,3 0 0 0 -.209,-2.993Z"/>
<path class="k16" d="M-.209,-3.995A4,4 0 0 1 -.168,-3.996L-.126,-2.997A3,3 0 0 0 -.157,-2.996Z"/>
<path class="k17" d="M-.168,-3.996A4,4 0 0 1 -.119,-3.998L-.089,-2.999A3,3 0 0 0 -.126,-2.997Z"/>
<path class="k26" d="M-.119,-3.998A4,4 0 0 1 0,-4L0,-3A3,3 0 0 0 -.089,-2.999Z"/>
<path class="k1" d="M0,-3A3,3 0 0 1 2.502,1.656L1.668,1.104A2,2 0 0 0 0,-2Z"/>
<path class="k2" d="M2.502,1.656A3,3 0 0 1 -.209,2.993L-.14,1.995A2,2 0 0 0 1.668,1.104Z"/>
<path class="k3" d="M-.209,2.993A3,3 0 0 1 -2.396,1.805L-1.597,1.204A2,2 0 0 0 -.14,1.995Z"/>
<path class="k4" d="M-2.396,1.805A3,3 0 0 1 -2.884,.827L-1.923,.551A2,2 0 0 0 -1.597,1.204Z"/>
<path class="k5" d="M-2.884,.827A3,3 0 0 1 -3,-.026L-2,-.017A2,2 0 0 0 -1.923,.551Z"/>
<path class="k6" d="M-3,-.026A3,3 0 0 1 -2.837,-.977L-1.891,-.651A2,2 0 0 0 -2,-.017Z"/>
<path class="k7" d="M-2.837,-.977A3,3 0 0 1 -2.364,-1.847L-1.576,-1.231A2,2 0 0 0 -1.891,-.651Z"/>
<path class="k8" d="M-2.364,-1.847A3,3 0 0 1 -1.968,-2.264L-1.312,-1.509A2,2 0 0 0 -1.576,-1.231Z"/>
<path class="k9" d="M-1.968,-2.264A3,3 0 0 1 -1.59,-2.544L-1.06,-1.696A2,2 0 0 0 -1.312,-1.509Z"/>
<path class="k10" d="M-1.59,-2.544A3,3 0 0 1 -1.196,-2.751L-.798,-1.834A2,2 0 0 0 -1.06,-1.696Z"/>
<path class="k11" d="M-1.196,-2.751A3,3 0 0 1 -.827,-2.884L-.551,-1.923A2,2 0 0 0 -.798,-1.834Z"/>
<path class="k12" d="M-.827,-2.884A3,3 0 0 1 -.7,-2.917L-.467,-1.945A2,2 0 0 0 -.551,-1.923Z"/>
<path class="k13" d="M-.7,-2.917A3,3 0 0 1 -.469,-2.963L-.313,-1.975A2,2 0 0 0 -.467,-1.945Z"/>
<path class="k14" d="M-.469,-2.963A3,3 0 0 1 -.418,-2.971L-.278,-1.981A2,2 0 0 0 -.313,-1.975Z"/>
<path class="k15" d="M-.418,-2.971A3,3 0 0 1 -.34,-2.981L-.226,-1.987A2,2 0 0 0 -.278,-1.981Z"/>
<path class="k16" d="M-.34,-2.981A3,3 0 0 1 -.288,-2.986L-.192,-1.991A2,2 0 0 0 -.226,-1.987Z"/>
<path class="k17" d="M-.288,-2.986A3,3 0 0 1 -.209,-2.993L-.14,-1.995A2,2 0 0 0 -.192,-1.991Z"/>
<path class="k25" d="M-.209,-2.993A3,3 0 0 1 -.105,-2.998L-.07,-1.999A2,2 0 0 0 -.14,-1.995Z"/>
<path class="k26" d="M-.105,-2.998A3,3 0 0 1 0,-3L0,-2A2,2 0 0 0 -.07,-1.999Z"/>
</g></g>
</g>

<g id="Y">
<text class="t" x="355" y="2763">Y</text>
<g filter="url(#sh)"><g class="dn" transform="translate(355 3172) scale(82)">
<path class="k1" d="M0,-4A4,4 0 0 1 3.897,-.9L2.923,-.675A3,3 0 0 0 0,-3Z"/>
<path class="k2" d="M3.897,-.9A4,4 0 0 1 4,0L3,0A3,3 0 0 0 2.923,-.675Z"/>
<path class="k3" d="M4,0A4,4 0 0 1 3.927,.763L2.945,.572A3,3 0 0 0 3,0Z"/>
<path class="k4" d="M3.927,.763A4,4 0 0 1 -3.771,1.335L-2.828,1.001A3,3 0 0 0 2.945,.572Z"/>
<path class="k5" d="M-3.771,1.335A4,4 0 0 1 -3.956,-.591L-2.967,-.443A3,3 0 0 0 -2.828,1.001Z"/>
<path class="k6" d="M-3.956,-.591A4,4 0 0 1 -3.897,-.9L-2.923,-.675A3,3 0 0 0 -2.967,-.443Z"/>
<path class="k7" d="M-3.897,-.9A4,4 0 0 1 -.968,-3.881L-.726,-2.911A3,3 0 0 0 -2.923,-.675Z"/>
<path class="k8" d="M-.968,-3.881A4,4 0 0 1 -.866,-3.905L-.649,-2.929A3,3 0 0 0 -.726,-2.911Z"/>
<path class="k9" d="M-.866,-3.905A4,4 0 0 1 -.695,-3.939L-.521,-2.954A3,3 0 0 0 -.649,-2.929Z"/>
<path class="k10" d="M-.695,-3.939A4,4 0 0 1 -.522,-3.966L-.392,-2.974A3,3 0 0 0 -.521,-2.954Z"/>
<path class="k11" d="M-.522,-3.966A4,4 0 0 1 -.349,-3.985L-.261,-2.989A3,3 0 0 0 -.392,-2.974Z"/>
<path class="k12" d="M-.349,-3.985A4,4 0 0 1 -.3,-3.989L-.225,-2.992A3,3 0 0 0 -.261,-2.989Z"/>
<path class="k13" d="M-.3,-3.989A4,4 0 0 1 -.14,-3.998L-.105,-2.998A3,3 0 0 0 -.225,-2.992Z"/>
<path class="k14" d="M-.14,-3.998A4,4 0 0 1 -.119,-3.998L-.089,-2.999A3,3 0 0 0 -.105,-2.998Z"/>
<path class="k15" d="M-.119,-3.998A4,4 0 0 1 -.07,-3.999L-.052,-3A3,3 0 0 0 -.089,-2.999Z"/>
<path class="k16" d="M-.07,-3.999A4,4 0 0 1 -.049,-4L-.037,-3A3,3 0 0 0 -.052,-3Z"/>
<path class="k17" d="M-.049,-4A4,4 0 0 1 -.028,-4L-.021,-3A3,3 0 0 0 -.037,-3Z"/>
<path class="k26" d="M-.028,-4A4,4 0 0 1 0,-4L0,-3A3,3 0 0 0 -.021,-3Z"/>
<path class="k1" d="M0,-3A3,3 0 0 1 2.121,2.121L1.414,1.414A2,2 0 0 0 0,-2Z"/>
<path class="k2" d="M2.121,2.121A3,3 0 0 1 .209,2.993L.14,1.995A2,2 0 0 0 1.414,1.414Z"/>
<path class="k3" d="M.209,2.993A3,3 0 0 1 -1.454,2.624L-.97,1.749A2,2 0 0 0 .14,1.995Z"/>
<path class="k4" d="M-1.454,2.624A3,3 0 0 1 -2.772,1.148L-1.848,.765A2,2 0 0 0 -.97,1.749Z"/>
<path class="k5" d="M-2.772,1.148A3,3 0 0 1 -2.996,.157L-1.997,.105A2,2 0 0 0 -1.848,.765Z"/>
<path class="k6" d="M-2.996,.157A3,3 0 0 1 -2.954,-.521L-1.97,-.347A2,2 0 0 0 -1.997,.105Z"/>
<path class="k7" d="M-2.954,-.521A3,3 0 0 1 -2.396,-1.805L-1.597,-1.204A2,2 0 0 0 -1.97,-.347Z"/>
<path class="k8" d="M-2.396,-1.805A3,3 0 0 1 -2.065,-2.176L-1.377,-1.451A2,2 0 0 0 -1.597,-1.204Z"/>
<path class="k9" d="M-2.065,-2.176A3,3 0 0 1 -1.763,-2.427L-1.176,-1.618A2,2 0 0 0 -1.377,-1.451Z"/>
<path class="k10" d="M-1.763,-2.427A3,3 0 0 1 -1.454,-2.624L-.97,-1.749A2,2 0 0 0 -1.176,-1.618Z"/>
<path class="k11" d="M-1.454,-2.624A3,3 0 0 1 -1.026,-2.819L-.684,-1.879A2,2 0 0 0 -.97,-1.749Z"/>
<path class="k12" d="M-1.026,-2.819A3,3 0 0 1 -.977,-2.837L-.651,-1.891A2,2 0 0 0 -.684,-1.879Z"/>
<path class="k13" d="M-.977,-2.837A3,3 0 0 1 -.418,-2.971L-.278,-1.981A2,2 0 0 0 -.651,-1.891Z"/>
<path class="k14" d="M-.418,-2.971A3,3 0 0 1 -.397,-2.974L-.265,-1.982A2,2 0 0 0 -.278,-1.981Z"/>
<path class="k15" d="M-.397,-2.974A3,3 0 0 1 -.209,-2.993L-.14,-1.995A2,2 0 0 0 -.265,-1.982Z"/>
<path class="k16" d="M-.209,-2.993A3,3 0 0 1 -.183,-2.994L-.122,-1.996A2,2 0 0 0 -.14,-1.995Z"/>
<path class="k17" d="M-.183,-2.994A3,3 0 0 1 -.131,-2.997L-.087,-1.998A2,2 0 0 0 -.122,-1.996Z"/>
<path class="k26" d="M-.131,-2.997A3,3 0 0 1 0,-3L0,-2A2,2 0 0 0 -.087,-1.998Z"/>
</g></g>
</g>

<g id="Ctr">
<text class="t" x="1258" y="2763">Ctr</text>
<g filter="url(#sh)"><g class="dn" transform="translate(1258 3172) scale(82)">
<path class="k1" d="M0,-4A4,4 0 0 1 3.696,1.531L2.772,1.148A3,3 0 0 0 0,-3Z"/>
<path class="k2" d="M3.696,1.531A4,4 0 0 1 1.595,3.668L1.196,2.751A3,3 0 0 0 2.772,1.148Z"/>
<path class="k3" d="M1.595,3.668A4,4 0 0 1 -1.169,3.825L-.877,2.869A3,3 0 0 0 1.196,2.751Z"/>
<path class="k4" d="M-1.169,3.825A4,4 0 0 1 -3.709,1.498L-2.782,1.124A3,3 0 0 0 -.877,2.869Z"/>
<path class="k5" d="M-3.709,1.498A4,4 0 0 1 -3.999,-.105L-2.999,-.079A3,3 0 0 0 -2.782,1.124Z"/>
<path class="k6" d="M-3.999,-.105A4,4 0 0 1 -3.905,-.866L-2.929,-.649A3,3 0 0 0 -2.999,-.079Z"/>
<path class="k7" d="M-3.905,-.866A4,4 0 0 1 -2.571,-3.064L-1.928,-2.298A3,3 0 0 0 -2.929,-.649Z"/>
<path class="k8" d="M-2.571,-3.064A4,4 0 0 1 -2.237,-3.316L-1.678,-2.487A3,3 0 0 0 -1.928,-2.298Z"/>
<path class="k9" d="M-2.237,-3.316A4,4 0 0 1 -1.939,-3.498L-1.454,-2.624A3,3 0 0 0 -1.678,-2.487Z"/>
<path class="k10" d="M-1.939,-3.498A4,4 0 0 1 -1.433,-3.734L-1.075,-2.801A3,3 0 0 0 -1.454,-2.624Z"/>
<path class="k11" d="M-1.433,-3.734A4,4 0 0 1 -.9,-3.897L-.675,-2.923A3,3 0 0 0 -1.075,-2.801Z"/>
<path class="k12" d="M-.9,-3.897A4,4 0 0 1 -.797,-3.92L-.598,-2.94A3,3 0 0 0 -.675,-2.923Z"/>
<path class="k13" d="M-.797,-3.92A4,4 0 0 1 -.383,-3.982L-.288,-2.986A3,3 0 0 0 -.598,-2.94Z"/>
<path class="k14" d="M-.383,-3.982A4,4 0 0 1 -.349,-3.985L-.261,-2.989A3,3 0 0 0 -.288,-2.986Z"/>
<path class="k15" d="M-.349,-3.985A4,4 0 0 1 -.223,-3.994L-.167,-2.995A3,3 0 0 0 -.261,-2.989Z"/>
<path class="k16" d="M-.223,-3.994A4,4 0 0 1 -.181,-3.996L-.136,-2.997A3,3 0 0 0 -.167,-2.995Z"/>
<path class="k17" d="M-.181,-3.996A4,4 0 0 1 -.14,-3.998L-.105,-2.998A3,3 0 0 0 -.136,-2.997Z"/>
<path class="k26" d="M-.14,-3.998A4,4 0 0 1 0,-4L0,-3A3,3 0 0 0 -.105,-2.998Z"/>
<path class="k1" d="M0,-3A3,3 0 0 1 2.442,1.742L1.628,1.161A2,2 0 0 0 0,-2Z"/>
<path class="k2" d="M2.442,1.742A3,3 0 0 1 .026,3L.017,2A2,2 0 0 0 1.628,1.161Z"/>
<path class="k3" d="M.026,3A3,3 0 0 1 -1.988,2.247L-1.325,1.498A2,2 0 0 0 .017,2Z"/>
<path class="k4" d="M-1.988,2.247A3,3 0 0 1 -2.719,1.268L-1.813,.845A2,2 0 0 0 -1.325,1.498Z"/>
<path class="k5" d="M-2.719,1.268A3,3 0 0 1 -2.998,.105L-1.999,.07A2,2 0 0 0 -1.813,.845Z"/>
<path class="k6" d="M-2.998,.105A3,3 0 0 1 -2.917,-.7L-1.945,-.467A2,2 0 0 0 -1.999,.07Z"/>
<path class="k7" d="M-2.917,-.7A3,3 0 0 1 -2.427,-1.763L-1.618,-1.176A2,2 0 0 0 -1.945,-.467Z"/>
<path class="k8" d="M-2.427,-1.763A3,3 0 0 1 -2.103,-2.14L-1.402,-1.427A2,2 0 0 0 -1.618,-1.176Z"/>
<path class="k9" d="M-2.103,-2.14A3,3 0 0 1 -1.784,-2.412L-1.19,-1.608A2,2 0 0 0 -1.402,-1.427Z"/>
<path class="k10" d="M-1.784,-2.412A3,3 0 0 1 -1.454,-2.624L-.97,-1.749A2,2 0 0 0 -1.19,-1.608Z"/>
<path class="k11" d="M-1.454,-2.624A3,3 0 0 1 -1.001,-2.828L-.668,-1.885A2,2 0 0 0 -.97,-1.749Z"/>
<path class="k12" d="M-1.001,-2.828A3,3 0 0 1 -.927,-2.853L-.618,-1.902A2,2 0 0 0 -.668,-1.885Z"/>
<path class="k13" d="M-.927,-2.853A3,3 0 0 1 -.547,-2.95L-.364,-1.967A2,2 0 0 0 -.618,-1.902Z"/>
<path class="k14" d="M-.547,-2.95A3,3 0 0 1 -.511,-2.956L-.34,-1.971A2,2 0 0 0 -.364,-1.967Z"/>
<path class="k15" d="M-.511,-2.956A3,3 0 0 1 -.314,-2.984L-.209,-1.989A2,2 0 0 0 -.34,-1.971Z"/>
<path class="k16" d="M-.314,-2.984A3,3 0 0 1 -.272,-2.988L-.181,-1.992A2,2 0 0 0 -.209,-1.989Z"/>
<path class="k17" d="M-.272,-2.988A3,3 0 0 1 -.209,-2.993L-.14,-1.995A2,2 0 0 0 -.181,-1.992Z"/>
<path class="k25" d="M-.209,-2.993A3,3 0 0 1 -.105,-2.998L-.07,-1.999A2,2 0 0 0 -.14,-1.995Z"/>
<path class="k26" d="M-.105,-2.998A3,3 0 0 1 0,-3L0,-2A2,2 0 0 0 -.07,-1.999Z"/>
</g></g>
</g>

<g id="legend">
<path d="M1893,1410 Q1921,1529 1893,1648 Q1898,1529 1893,1410Z" fill="#2B64AC"/>
<rect x="1898" y="100" width="27" height="24" fill="url(#g1)"/><text class="l" x="1939" y="126">Proteobacteria</text>
<rect x="1898" y="174" width="27" height="24" fill="url(#g2)"/><text class="l" x="1939" y="200">Acidobacteria</text>
<rect x="1898" y="248" width="27" height="24" fill="url(#g3)"/><text class="l" x="1939" y="274">Actinobacteria</text>
<rect x="1898" y="322" width="27" height="24" fill="url(#g4)"/><text class="l" x="1939" y="348">Firmicutes</text>
<rect x="1898" y="395" width="27" height="24" fill="url(#g5)"/><text class="l" x="1939" y="421">Unassigned;Other</text>
<rect x="1898" y="469" width="27" height="24" fill="url(#g6)"/><text class="l" x="1939" y="495">Chloroflexi</text>
<rect x="1898" y="543" width="27" height="24" fill="url(#g7)"/><text class="l" x="1939" y="569">Bacteroidetes</text>
<rect x="1898" y="617" width="27" height="24" fill="url(#g8)"/><text class="l" x="1939" y="643">Gemmatimonadetes</text>
<rect x="1898" y="691" width="27" height="24" fill="url(#g9)"/><text class="l" x="1939" y="717">Nitrospirae</text>
<rect x="1898" y="765" width="27" height="24" fill="url(#g10)"/><text class="l" x="1939" y="791">Planctomycetes</text>
<rect x="1898" y="839" width="27" height="24" fill="url(#g11)"/><text class="l" x="1939" y="865">Verrucomicrobia</text>
<rect x="1898" y="912" width="27" height="24" fill="url(#g12)"/><text class="l" x="1939" y="938">Armatimonadetes</text>
<rect x="1898" y="986" width="27" height="24" fill="url(#g13)"/><text class="l" x="1939" y="1012">Cyanobacteria</text>
<rect x="1898" y="1060" width="27" height="24" fill="url(#g14)"/><text class="l" x="1939" y="1086">WS3</text>
<rect x="1898" y="1134" width="27" height="24" fill="url(#g15)"/><text class="l" x="1939" y="1160">TM7</text>
<rect x="1898" y="1208" width="27" height="24" fill="url(#g16)"/><text class="l" x="1939" y="1234">OD1</text>
<rect x="1898" y="1282" width="27" height="24" fill="url(#g17)"/><text class="l" x="1939" y="1308">Fibrobacteres</text>
<rect x="1898" y="1355" width="27" height="24" fill="url(#g18)"/><text class="l" x="1939" y="1381">TM6</text>
<rect x="1898" y="1429" width="27" height="24" fill="url(#g19)"/><text class="l" x="1939" y="1455">Elusimicrobia</text>
<rect x="1898" y="1503" width="27" height="24" fill="url(#g20)"/><text class="l" x="1939" y="1529">[Thermi]</text>
<rect x="1898" y="1577" width="27" height="24" fill="url(#g21)"/><text class="l" x="1939" y="1603">Tenericutes</text>
<rect x="1898" y="1651" width="27" height="24" fill="url(#g22)"/><text class="l" x="1939" y="1677">GN02</text>
<rect x="1898" y="1725" width="27" height="24" fill="url(#g23)"/><text class="l" x="1939" y="1751">BRC1</text>
<rect x="1898" y="1799" width="27" height="24" fill="url(#g24)"/><text class="l" x="1939" y="1825">OP3</text>
<rect x="1898" y="1872" width="27" height="24" fill="url(#g25)"/><text class="l" x="1939" y="1898">Spirochaetes</text>
<rect x="1898" y="1946" width="27" height="24" fill="url(#g26)"/><text class="l" x="1939" y="1972">Chlorobi</text>
<rect x="1898" y="2020" width="27" height="24" fill="url(#g27)"/><text class="l" x="1939" y="2046">WS4</text>
<rect x="1898" y="2094" width="27" height="24" fill="url(#g28)"/><text class="l" x="1939" y="2120">OP11</text>
<rect x="1898" y="2168" width="27" height="24" fill="url(#g29)"/><text class="l" x="1939" y="2194">Other</text>
<rect x="1898" y="2242" width="27" height="24" fill="url(#g30)"/><text class="l" x="1939" y="2268">SR1</text>
<rect x="1898" y="2316" width="27" height="24" fill="url(#g31)"/><text class="l" x="1939" y="2342">Unclassified</text>
<rect x="1898" y="2389" width="27" height="24" fill="url(#g32)"/><text class="l" x="1939" y="2415">GN04</text>
<rect x="1898" y="2463" width="27" height="24" fill="url(#g33)"/><text class="l" x="1939" y="2489">FBP</text>
<rect x="1898" y="2537" width="27" height="24" fill="url(#g34)"/><text class="l" x="1939" y="2563">NKB19</text>
<rect x="1898" y="2611" width="27" height="24" fill="url(#g35)"/><text class="l" x="1939" y="2637">BHI80-139</text>
<rect x="1898" y="2685" width="27" height="24" fill="url(#g36)"/><text class="l" x="1939" y="2711">GAL15</text>
<rect x="1898" y="2759" width="27" height="24" fill="url(#g37)"/><text class="l" x="1939" y="2785">MVP-21</text>
<rect x="1898" y="2832" width="27" height="24" fill="url(#g38)"/><text class="l" x="1939" y="2858">WPS-2</text>
<rect x="1898" y="2906" width="27" height="24" fill="url(#g39)"/><text class="l" x="1939" y="2932">WS2</text>
</g>

<g id="key">
<g filter="url(#sh)"><g class="ky" transform="translate(2019 3259) scale(60.5)">
<path fill="#5F5F5F" d="M0,-4A4,4 0 0 1 3.782,-1.302L2.837,-.977A3,3 0 0 0 0,-3Z"/>
<path fill="#B3B3B3" d="M3.782,-1.302A4,4 0 0 1 -2.351,3.236L-1.763,2.427A3,3 0 0 0 2.837,-.977Z"/>
<path fill="#808080" d="M-2.351,3.236A4,4 0 0 1 -3.195,-2.407L-2.396,-1.805A3,3 0 0 0 -1.763,2.427Z"/>
<path fill="#4B4B4B" d="M-3.195,-2.407A4,4 0 0 1 0,-4L0,-3A3,3 0 0 0 -2.396,-1.805Z"/>
<path fill="#5F5F5F" d="M0,-3A3,3 0 0 1 1.805,2.396L1.204,1.597A2,2 0 0 0 0,-2Z"/>
<path fill="#B3B3B3" d="M1.805,2.396A3,3 0 0 1 -1.763,2.427L-1.176,1.618A2,2 0 0 0 1.204,1.597Z"/>
<path fill="#808080" d="M-1.763,2.427A3,3 0 0 1 -1.721,-2.457L-1.147,-1.638A2,2 0 0 0 -1.176,1.618Z"/>
<path fill="#4B4B4B" d="M-1.721,-2.457A3,3 0 0 1 0,-3L0,-2A2,2 0 0 0 -1.147,-1.638Z"/>
</g></g>
<text class="l" x="2256" y="3022" style="font-size:46px">Day 58</text>
<text class="l" x="2256" y="3505" style="font-size:46px">Day 9</text>
</g>

<g id="connectors">
<line class="cn" x1="2229" y1="3014" x2="2127" y2="3149"/>
<line class="cn" x1="2163" y1="3323" x2="2238" y2="3412"/>
</g>
</svg>
